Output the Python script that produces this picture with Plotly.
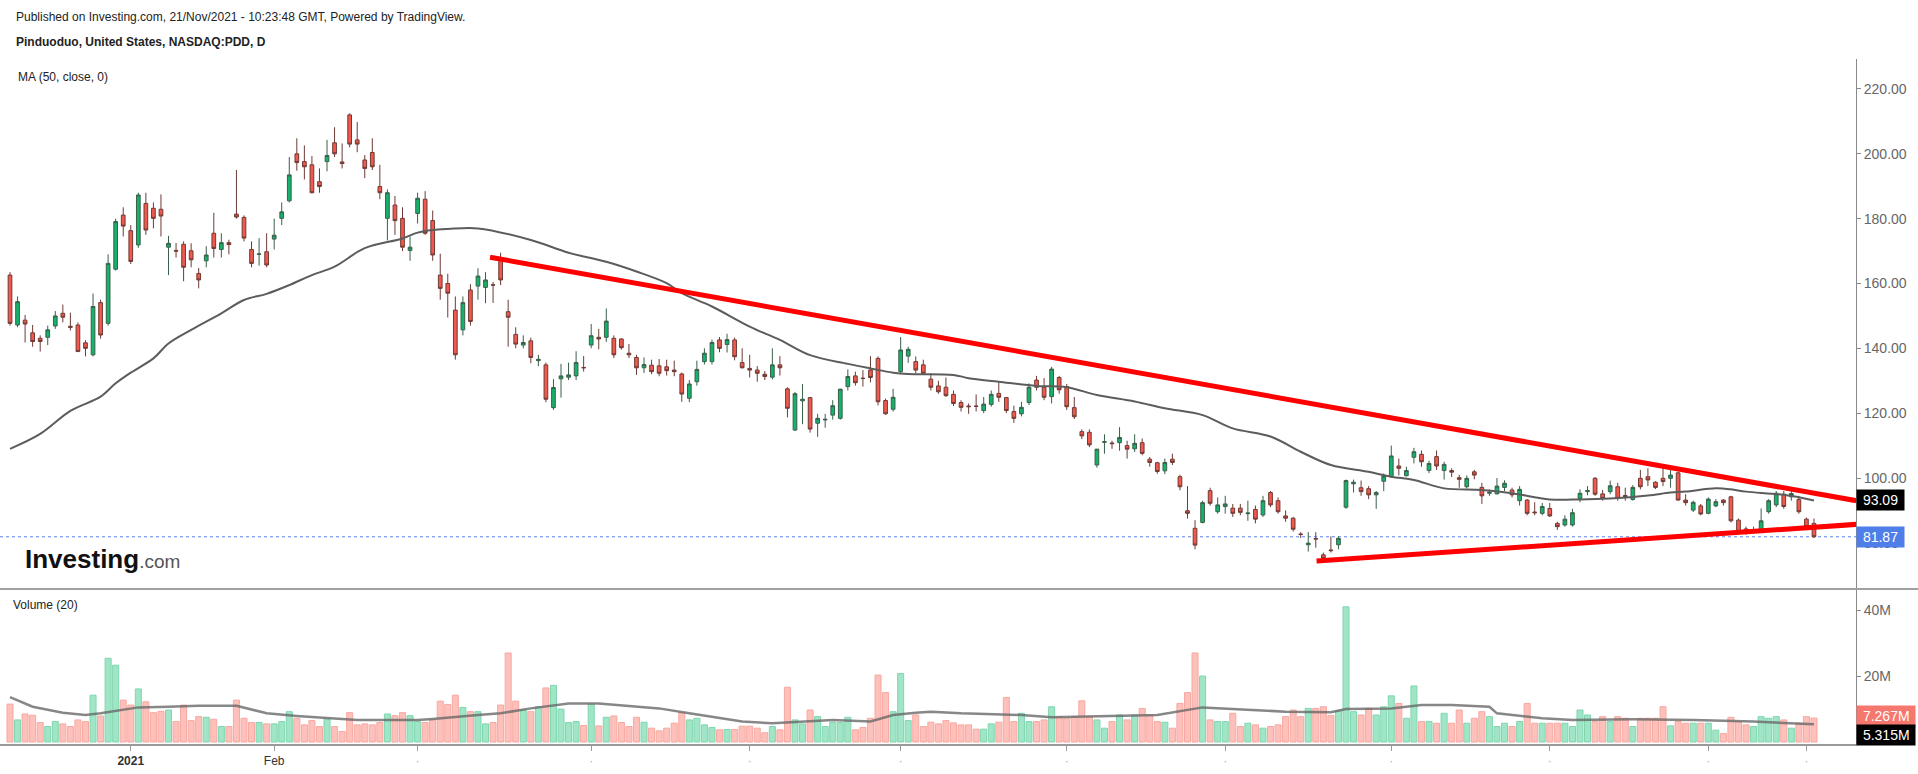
import plotly.graph_objects as go

# ---------------- data ----------------
bar_open = [162.6,147.2,148.7,144.8,143.1,143.4,146.9,150.8,146.8,147.2,
 141.7,138,154.1,147.7,164.4,181.1,176.3,171.9,184.7,183.2,
 182.9,171.2,170.2,172.1,170.1,163.1,167,175.5,170.5,172.6,
 181.4,180.4,170.5,169,169.8,173.7,180.1,185.5,200,197.6,
 196.6,191.4,197.6,203.4,197.5,212,204.3,198.1,200.4,189.9,
 180.1,184.2,180.1,170.2,181.6,186,179.4,162.6,160,151.8,
 145.7,158,159.2,158.8,159.6,167.8,151.3,144.3,141,142.3,
 136.2,134.9,121.7,130.6,131.1,131.5,134.1,141,143.4,143.4,
 143.1,142.9,138.5,137.2,134,134.8,134.6,134.3,133.3,132.1,
 124.6,129.7,135.9,135.9,142.6,141.2,142.6,135.6,133.8,133.3,
 132,131.1,134.9,127.5,114.8,123.8,124.8,116.9,117.9,119.4,
 118.4,128.2,131.5,130.8,133.3,136.9,123.9,121.2,132.8,137.6,
 135.9,134.9,130.5,128.4,128,125.8,123.3,122.2,122.2,120.8,
 122.7,126.1,124.8,120.5,119.8,123.3,130.2,128,125.1,131,
 128.2,121.7,114.3,114.1,104,111,110.8,110.9,110,109,
 110.9,105.8,104.7,102.2,105.8,100.4,89.9,84.5,86.3,96.1,
 89.6,91.2,90.7,90.7,89,90.3,88.6,95.5,93,88.3,
 87.6,82.7,79.4,81.3,76.3,77.8,79.4,91,98.2,97,
 96.7,94.8,99,100.4,103.7,100.7,106.4,107.3,102.3,106.6,
 102.3,102.3,100.1,97.3,101.9,97.1,95.3,95.1,97.1,96.3,
 93,93.2,89.5,89.1,90.6,86,85.5,85.5,93.7,95.8,
 99.9,95.1,95.8,97.3,94.6,93.4,99.9,100.4,98.7,99.9,
 99.9,101.6,93.2,90.1,91.4,89.1,91.4,93.2,94.2,87,
 84.3,84,84,89.6,91.7,95,94.2,93.4,87.3,86]

bar_high = [163.5,156,150.3,147.2,144,147,151.5,153.5,151,148,
 142.5,156.9,155,169,180,183.5,178,188,188,185,
 187.5,174.7,172.5,173,172.4,164.8,171.5,181.8,175.5,173.5,
 195,181,173,174,175.5,180,185,199,204.8,202.6,
 199.3,195.5,204.3,208.2,203.2,212.5,209.8,199.6,204.8,196.6,
 189,187,183.5,174.5,188,188.5,182.5,169.2,163,156,
 156,159.8,164.7,163.5,160.5,169.5,155,146.5,144,143.3,
 138,135.6,130.5,135.2,135.6,139.1,137.6,147.5,146,152.3,
 144,143,141.3,138,137.2,136.5,136.7,136.5,136.2,132.5,
 130.2,136.2,140,142.7,143.5,144.5,143.3,140,138,134.5,
 133,140,137.6,128,126.5,129,125,119.8,119.8,124,
 127.5,133.5,132.8,133.3,137.6,137.5,124.5,127.5,143.5,140.5,
 137.5,136.5,132.3,130,131,127,124,123,125.8,125,
 127,129.8,125,122.3,123.5,129.2,131.5,130.8,134.3,131.5,
 129,125,115,115,109,113.5,111.5,115.7,111.5,113.5,
 112.2,106.5,105,106,107.5,101,97.5,87,93,97,
 94,94.5,92,92,93,91.5,94.5,96,94,90,
 88,83.3,83.3,83.3,77,82,82,99.5,99.5,99.2,
 97.5,96,101.4,110,106,103.5,109.3,108.5,105.3,108.5,
 105,103,101,100.8,102.5,98.5,96.5,100,99.3,97,
 97.5,93.5,92.5,92.3,92.3,86.5,88.5,90.5,96.5,97.5,
 100.3,96.3,99.2,98.5,97,97.8,102.5,103,99,104.3,
 103,102,95,93,92,94,93.5,93.5,94.5,87.5,
 85,85,90.6,93.5,96,96,96,94.5,87.8,87.5]

bar_low = [147,146.5,141.8,140.5,139,141,146,148,145.5,139,
 137.5,137.5,143,147,164,174.5,166,171,175,177,
 174.5,162.6,168,160.7,165,158.5,165,168,168,169,
 180,173,165,165.5,165,170.5,178,185,194.8,192.1,
 187.8,188,194.6,199,195.5,202,200.5,192.5,195,186,
 173.3,175,170,167,178.5,175,167,155,149.5,136.5,
 144,147,155,153.9,154,159.5,140.5,140,140,135.4,
 134.5,123.4,121,124.8,130.2,130.2,132.8,140,139.7,142,
 137,139.6,137,131.8,132.4,132,131.4,131.6,131.4,123.5,
 123.4,128.5,135,135,138.8,138.7,136.3,133.8,131,129.7,
 130.2,130.4,131.6,118.7,114.5,116.6,114,112.7,115.5,118,
 118,127,128.5,128.2,129.5,122.4,119.5,120.5,132.3,135.5,
 132.3,132,127,126,125,122.2,120.5,119.8,120.5,120,
 122,123.5,120,117,119,122.5,127,124,123,126,
 121,118.2,112,109.5,103.2,107.5,109,108.4,106,108,
 107,103.5,101.3,101.2,104,96.2,87.5,78,86,91.5,
 89,89,88,88.5,86.8,86,88,91,89,86.5,
 83.5,81.5,77.3,78.5,74.5,77,78,90.5,95.5,94.5,
 93.5,90.5,95.9,100,100.8,100.5,104.5,103.5,101.5,102.5,
 99.5,100.3,97,96.8,99.6,92,94.5,95,96,94,
 91.5,88.5,88.5,88.5,88,84,85,85,92.5,94.7,
 94.5,93,95,93,93,93,96.5,97.5,96.6,97.5,
 97,93,91.5,89.5,88.5,88.8,91,91.5,86.3,83,
 82.5,83,83.5,89,91,90.5,93,89,84.5,81.5]

bar_close = [147.7,154.4,147.5,142.1,142.1,145.7,150,149.6,146.5,139,
 140,152.9,144.1,166.2,179.1,177.7,166.8,187.3,176.5,180.1,
 180.8,172.4,170,165,167.3,161.1,168.8,170.8,172.6,172,
 180.5,174,166.2,169.1,165.7,174.9,182.1,193.5,197.3,196,
 188,189.9,199.5,200,197,203,203,195.5,196,188,
 188,179.4,171.2,171.2,186.3,175.5,168.8,158.5,157,138,
 154.1,148.3,162.3,161.1,159.5,161.1,149.6,141.3,141.8,137.2,
 136.6,124.3,127.9,131.5,131.8,135.6,134,143.9,142.9,148.4,
 138,140.2,138,134,135,132.8,132.3,133.1,132.8,125.9,
 129,133.5,138.5,141.8,140,142.7,137.4,134,133.3,132.3,
 131.3,134.9,134,121.5,126,124.3,115.1,118.4,118.1,122.3,
 127.4,131.3,129.4,130.7,131,123.5,119.8,124.9,139.5,139.7,
 133.3,132.3,128,126.6,125.4,123,121.8,122,122.1,122.8,
 125.8,124.9,120.8,118.4,121.8,128,128,124.9,133.6,127.2,
 122,118.9,113,110.2,108.9,111.2,110.6,112.5,108.9,110.7,
 107.6,104.8,102,104.8,104.8,97.3,89.1,79.3,92.4,92.2,
 91.7,92,89.1,89.4,89.2,87.3,93,91.7,89.6,87.6,
 84.2,82.6,79.9,81.2,75.2,77.6,81.4,99.2,98.7,95.8,
 94.8,95.5,100.6,106.8,103,102.3,108.1,105,104.5,103.7,
 104.2,101.8,99.6,99.9,100.9,94.5,95.6,97.5,98.4,94.8,
 96.5,89.1,89.3,91.2,88.3,85,87.3,89.3,95.3,96.1,
 95,93.7,97.6,93.7,94.3,97.1,97.3,99.4,97.1,98.9,
 100.9,93.2,92.4,92.5,88.9,93.5,92.7,92.4,86.8,83.5,
 83.5,84.1,86.8,93,95.3,91.2,95.2,89.6,85,81.87]

volume_m = [11.5,6.7,8.5,8.1,5.9,4.7,6.2,5.5,4.7,6.7,
 6.2,14.2,7.9,25.4,23.3,12.7,11.2,16.1,12.2,8.9,
 9.3,9.7,6.2,11.2,6.5,7.7,7.5,6.9,4.7,4.7,
 12.7,7.2,5.9,5.9,5.5,5.5,6.2,9.2,7.2,5.2,
 6.5,4.7,7.0,4.7,3.2,8.9,5.2,5.5,5.2,5.9,
 8.5,8.0,8.9,8.0,6.2,5.9,6.7,12.4,11.4,14.2,
 10.5,9.2,9.2,5.5,5.9,11.2,27.0,12.4,9.7,9.2,
 10.7,16.4,17.2,10.0,5.9,6.2,5.0,11.5,4.9,7.5,
 7.9,5.9,4.7,7.5,6.0,4.2,3.4,4.2,5.7,8.9,
 6.7,7.2,5.2,4.4,3.7,3.8,3.8,4.8,4.8,4.2,
 2.8,4.7,3.7,16.6,6.7,5.5,9.7,7.7,4.7,5.9,
 5.9,7.5,3.7,4.4,7.2,20.3,15.0,9.2,20.8,6.5,
 8.2,4.7,6.0,5.5,6.5,5.8,5.2,5.2,3.9,3.9,
 5.5,6.0,13.5,6.2,8.7,6.2,6.2,6.7,10.7,7.7,
 7.2,7.7,12.5,7.7,6.7,4.2,6.2,8.2,6.7,8.2,
 10.2,8.2,6.2,6.0,4.2,11.7,15.0,27.0,20.0,6.7,
 6.2,6.2,8.7,4.7,5.7,5.2,4.2,4.7,5.2,7.7,
 9.7,7.7,10.2,10.2,10.7,8.0,9.5,41.0,9.2,8.2,
 10.2,8.2,10.7,14.0,11.7,7.2,17.0,6.2,6.2,5.7,
 8.7,5.7,9.7,5.7,7.2,9.2,7.7,4.7,5.7,4.7,
 6.2,11.7,5.7,5.7,5.7,5.7,5.7,4.7,9.7,8.2,
 6.2,7.7,6.2,7.7,7.2,4.7,7.2,7.2,7.2,10.7,
 4.9,6.2,5.7,5.7,5.7,5.7,3.6,2.6,7.5,6.2,
 5.2,4.7,7.7,7.2,7.7,6.7,4.2,5.7,7.7,7.267]

# MA(50) of the price at these bar positions
ma50_idx = [0,4,8,12,14,16,19,21,24,28,31,34,37,40,43,47,52,54,56,58,62,69,74,79,83,87,89,93,
            98,102,106,111,114,117,119,125,127,131,136,140,144,149,153,158,162,167,171,175,
            180,183,186,190,195,199,204,208,212,217,220,222,226,228,230,235,239]
ma50_val = [109,113.6,120.7,125.1,129.2,132.5,136.9,141.5,145.7,150.8,154.9,156.8,159.5,162.6,
            165.2,170.9,173.9,175.7,176.5,176.8,177,173.4,169.5,166.7,163.7,160.1,157,152.9,
            146.7,142.6,137.9,135.2,133.8,132.5,132.1,131.8,130.8,129.7,128.4,128,125.6,123.6,
            121.5,119.4,115.3,112.8,108.1,104,101.9,100.4,99.4,96.8,96.3,95.3,93.4,93.4,93.7,
            94.6,95.5,95.8,96.8,96.5,95.8,94.8,93.09]

# Volume MA(20) (millions)
vma_idx = [0,3,7,10,12,17,21,25,30,34,38,43,46,54,56,62,65,69,74,78,83,86,90,94,97,101,105,
           109,114,117,120,122,126,134,138,148,152,158,164,169,175,177,183,187,191,196,197,
           203,207,215,223,231,239]
vma_val = [13.6,10.7,8.9,8.2,8.7,10.5,10.7,11.0,11.0,8.7,7.9,7.2,6.7,6.7,7.0,8.2,8.7,10.2,
           11.7,11.7,10.7,10.2,8.7,7.2,6.2,5.7,6.2,6.7,6.2,8.2,8.9,9.2,8.7,8.2,7.5,7.9,8.2,
           10.5,9.9,9.2,9.0,10.0,10.2,11.2,11.2,10.7,8.7,7.2,6.7,6.9,6.7,6.2,5.4]

# hand-drawn trend lines (bar index, price)
upper_tl_idx = [63.6, 244.6]
upper_tl_val = [168.1, 93.0]
lower_tl_idx = [173.1, 244.6]
lower_tl_val = [74.4, 85.7]

last_price = 81.87
last_ma = 93.09
last_vol = "7.267M"
last_vma = "5.315M"

tick_idx = [16, 35, 54, 77, 98, 118, 140, 161, 183, 204, 225, 238]
DOT = "<span style='color:#b0b0b0'>·</span>"
tick_txt = ["<b>2021</b>", "Feb"] + [DOT] * 10

price_ticks = [80, 100, 120, 140, 160, 180, 200, 220]
vol_ticks = [20, 40]

# ---------------- figure ----------------
N = len(bar_close)
idx = list(range(N))

W, H = 1918, 774
ML, MR, MT, MB = 0, 62, 59, 30
PW, PH = W - ML - MR, H - MT - MB
SEP = 589  # pixel y of the pane separator


def px_x(p):
    return (p - ML) / PW


def px_y(p):
    return (H - MB - p) / PH


split = px_y(SEP)

fig = go.Figure()

up_vol = '#9fe5c6'
dn_vol = '#fec0bb'
vol_colors = [up_vol if c >= o else dn_vol for o, c in zip(bar_open, bar_close)]
vol_line = ['#7fd6b0' if c >= o else '#f7a8a1' for o, c in zip(bar_open, bar_close)]

fig.add_trace(go.Bar(x=idx, y=volume_m, yaxis='y2', width=0.8,
                     marker=dict(color=vol_colors, line=dict(color=vol_line, width=1)),
                     showlegend=False, hoverinfo='skip'))
fig.add_trace(go.Scatter(x=vma_idx, y=vma_val, yaxis='y2', mode='lines',
                         line=dict(color='rgba(105,105,105,0.8)', width=2.5),
                         showlegend=False, hoverinfo='skip'))

fig.add_trace(go.Scatter(x=ma50_idx, y=ma50_val, mode='lines', line_shape='spline',
                         line=dict(color='#5c5c5c', width=2), showlegend=False, hoverinfo='skip'))

fig.add_trace(go.Candlestick(x=idx, open=bar_open, high=bar_high, low=bar_low, close=bar_close,
                             increasing=dict(fillcolor='#14b36b', line=dict(color='#3a5f4a', width=1)),
                             decreasing=dict(fillcolor='#f2584c', line=dict(color='#6e3a35', width=1)),
                             showlegend=False))

for xs, ys in ((upper_tl_idx, upper_tl_val), (lower_tl_idx, lower_tl_val)):
    fig.add_trace(go.Scatter(x=xs, y=ys, mode='lines', line=dict(color='#ff0000', width=5),
                             showlegend=False, hoverinfo='skip'))

FONT = 'Liberation Sans, Arial, sans-serif'
x_lo = (0 - 10) / 7.548
x_hi = (1856 - 10) / 7.548

fig.update_layout(
    width=W, height=H,
    margin=dict(l=ML, r=MR, t=MT, b=MB),
    paper_bgcolor='white', plot_bgcolor='white',
    font=dict(family=FONT),
    xaxis=dict(range=[x_lo, x_hi], anchor='y2', rangeslider=dict(visible=False),
               showgrid=False, zeroline=False, showline=True, linecolor='#9a9a9a', linewidth=2,
               ticks='outside', ticklen=5, tickcolor='#9a9a9a', tickwidth=1,
               tickvals=tick_idx, ticktext=tick_txt,
               tickfont=dict(size=12, color='#333333', family=FONT)),
    yaxis=dict(domain=[split, 1], range=[65.76, 229.25], side='right', anchor='x',
               showgrid=False, zeroline=False, showline=True, linecolor='#8a8a8a', linewidth=1,
               ticks='outside', ticklen=4, tickcolor='#8a8a8a',
               tickvals=price_ticks, ticktext=[f"{v:.2f}" for v in price_ticks],
               tickfont=dict(size=14, color='#666666', family=FONT)),
    yaxis2=dict(domain=[0, split], range=[-0.6, 46.4], side='right', anchor='x',
                showgrid=False, zeroline=False, showline=True, linecolor='#8a8a8a', linewidth=1,
                ticks='outside', ticklen=4, tickcolor='#8a8a8a',
                tickvals=vol_ticks, ticktext=[f"{v}M" for v in vol_ticks],
                tickfont=dict(size=14, color='#666666', family=FONT)),
    hovermode=False,
)

# separator between panes, and last-price dotted line
fig.add_shape(type='line', xref='paper', yref='paper', x0=0, x1=W / PW, y0=split, y1=split,
              line=dict(color='#a0a0a0', width=2))
fig.add_shape(type='line', xref='paper', yref='y', x0=0, x1=1, y0=last_price, y1=last_price,
              line=dict(color='#5b82f0', width=1, dash='dot'), layer='below')

ann = []
ann.append(dict(xref='paper', yref='paper', x=px_x(14), y=px_y(17), xanchor='left', yanchor='middle',
                text='Published on Investing.com, 21/Nov/2021 - 10:23:48 GMT, Powered by TradingView.',
                showarrow=False, font=dict(size=12, color='#222222')))
ann.append(dict(xref='paper', yref='paper', x=px_x(14), y=px_y(42), xanchor='left', yanchor='middle',
                text='<b>Pinduoduo, United States, NASDAQ:PDD, D</b>',
                showarrow=False, font=dict(size=12, color='#222222')))
ann.append(dict(xref='paper', yref='paper', x=px_x(16), y=px_y(77), xanchor='left', yanchor='middle',
                text='MA (50, close, 0)', showarrow=False, font=dict(size=12, color='#222222')))
ann.append(dict(xref='paper', yref='paper', x=px_x(11), y=px_y(605), xanchor='left', yanchor='middle',
                text='Volume (20)', showarrow=False, font=dict(size=12, color='#222222')))
ann.append(dict(xref='paper', yref='paper', x=px_x(23), y=px_y(559), xanchor='left', yanchor='middle',
                text="<b>Investing</b><span style='font-size:19px;color:#555555'>.com</span>",
                showarrow=False, font=dict(size=26, color='#111111')))

# right-hand value labels
ann.append(dict(xref='paper', yref='y', x=1, y=last_ma, xanchor='left', yanchor='middle',
                text=f" {last_ma:.2f} ", showarrow=False, bgcolor='#000000', borderpad=2,
                font=dict(size=14, color='white')))
ann.append(dict(xref='paper', yref='y', x=1, y=last_price, xanchor='left', yanchor='middle',
                text=f" {last_price:.2f} ", showarrow=False, bgcolor='#4f7ee8', borderpad=2,
                font=dict(size=14, color='white')))
ann.append(dict(xref='paper', yref='y2', x=1, y=volume_m[-1], yshift=2, xanchor='left', yanchor='middle',
                text=f" {last_vol} ", showarrow=False, bgcolor='#f6776d', borderpad=2,
                font=dict(size=14, color='white')))
ann.append(dict(xref='paper', yref='y2', x=1, y=5.315, yshift=-11, xanchor='left', yanchor='middle',
                text=f" {last_vma} ", showarrow=False, bgcolor='#000000', borderpad=2,
                font=dict(size=14, color='white')))
fig.update_layout(annotations=ann)

fig.write_html("out.html", config={'displayModeBar': False},
               post_script="document.body.style.margin='0';")
